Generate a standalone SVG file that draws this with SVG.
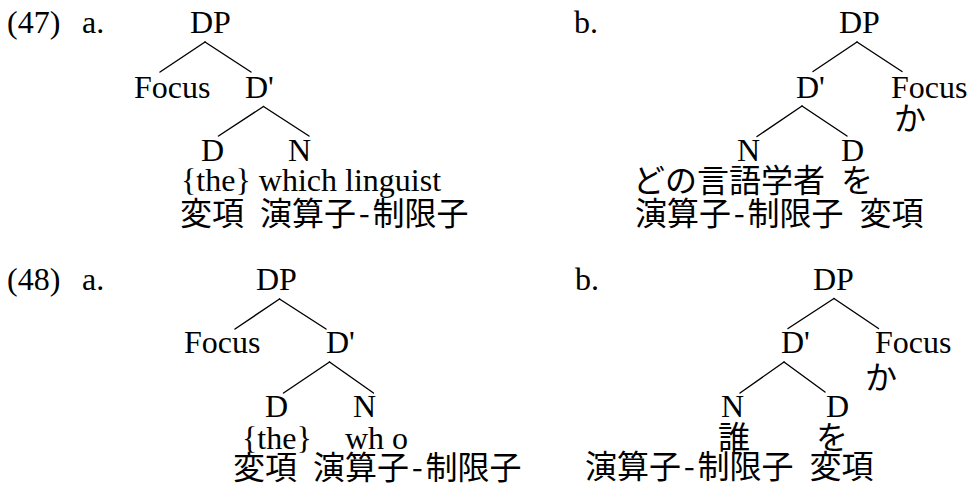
<svg xmlns="http://www.w3.org/2000/svg" width="969" height="484" viewBox="0 0 969 484">
<style>
text { font-family: "Liberation Serif", "Noto Sans CJK JP", serif; font-size: 32px; fill: #000; }
text.cjk { font-family: "Noto Sans CJK JP", "Liberation Serif", sans-serif; word-spacing: 8.8px; }
.edges line { stroke: #000; stroke-width: 1.4; stroke-linecap: round; }
</style>
<rect width="969" height="484" fill="#fff"/>
<g id="labels">
<text x="7" y="33">(47)</text>
<text x="82" y="33">a.</text>
<text x="574" y="33">b.</text>
<text x="7" y="290">(48)</text>
<text x="82" y="290">a.</text>
<text x="575" y="290">b.</text>
</g>
<g id="tree47a">
<g id="n47a-DP"><text x="190" y="33">DP</text></g>
<g id="n47a-Focus"><text x="134" y="98">Focus</text></g>
<g id="n47a-Dbar"><text x="245" y="98">D'</text></g>
<g id="n47a-D"><text x="201" y="161">D</text></g>
<g id="n47a-N"><text x="288" y="161">N</text></g>
<g id="n47a-words"><text x="181" y="191">{the} which linguist</text>
<text class="cjk" x="180" y="225">変項 演算子<tspan dx="2.7">-</tspan><tspan dx="2.7">制限子</tspan></text></g>
</g>
<g id="tree47b">
<g id="n47b-DP"><text x="839" y="33">DP</text></g>
<g id="n47b-Dbar"><text x="796" y="98">D'</text></g>
<g id="n47b-Focus"><text x="891" y="98">Focus</text><text class="cjk" x="894" y="130">か</text></g>
<g id="n47b-N"><text x="737" y="161">N</text></g>
<g id="n47b-D"><text x="841" y="161">D</text></g>
<g id="n47b-words"><text class="cjk" x="633" y="192">どの言語学者 を</text>
<text class="cjk" x="635" y="225">演算子<tspan dx="2.7">-</tspan><tspan dx="2.7">制限子</tspan> 変項</text></g>
</g>
<g id="tree48a">
<g id="n48a-DP"><text x="256" y="290">DP</text></g>
<g id="n48a-Focus"><text x="184" y="353">Focus</text></g>
<g id="n48a-Dbar"><text x="326" y="353">D'</text></g>
<g id="n48a-D"><text x="265" y="417">D</text><text x="242" y="449">{the}</text></g>
<g id="n48a-N"><text x="353" y="417">N</text><text x="345" y="449">wh o</text></g>
<g id="n48a-gloss"><text class="cjk" x="233" y="479">変項 演算子<tspan dx="2.7">-</tspan><tspan dx="2.7">制限子</tspan></text></g>
</g>
<g id="tree48b">
<g id="n48b-DP"><text x="813" y="290">DP</text></g>
<g id="n48b-Dbar"><text x="781" y="353">D'</text></g>
<g id="n48b-Focus"><text x="875" y="353">Focus</text><text class="cjk" x="865" y="389">か</text></g>
<g id="n48b-N"><text x="721" y="417">N</text><text class="cjk" x="718" y="449">誰</text></g>
<g id="n48b-D"><text x="826" y="417">D</text><text class="cjk" x="816" y="449">を</text></g>
<g id="n48b-gloss"><text class="cjk" x="585" y="478">演算子<tspan dx="2.7">-</tspan><tspan dx="2.7">制限子</tspan> 変項</text></g>
</g>
<g id="connectors" class="edges">
<line x1="205" y1="42" x2="160" y2="72"/>
<line x1="205" y1="42" x2="251" y2="72"/>
<line x1="263.5" y1="106.5" x2="218.5" y2="136"/>
<line x1="263.5" y1="106.5" x2="309" y2="136"/>
<line x1="857" y1="42" x2="813" y2="71.5"/>
<line x1="857" y1="42" x2="902" y2="71.5"/>
<line x1="802" y1="106" x2="757" y2="136.5"/>
<line x1="802" y1="106" x2="847" y2="136"/>
<line x1="279.5" y1="299" x2="235" y2="329"/>
<line x1="279.5" y1="299" x2="326" y2="329"/>
<line x1="329.5" y1="362" x2="283.5" y2="393"/>
<line x1="329.5" y1="362" x2="373.5" y2="393"/>
<line x1="834" y1="298.5" x2="788" y2="328.5"/>
<line x1="834" y1="298.5" x2="878.5" y2="328.5"/>
<line x1="784" y1="362" x2="740" y2="393"/>
<line x1="784" y1="362" x2="825" y2="392"/>
</g>
</svg>
